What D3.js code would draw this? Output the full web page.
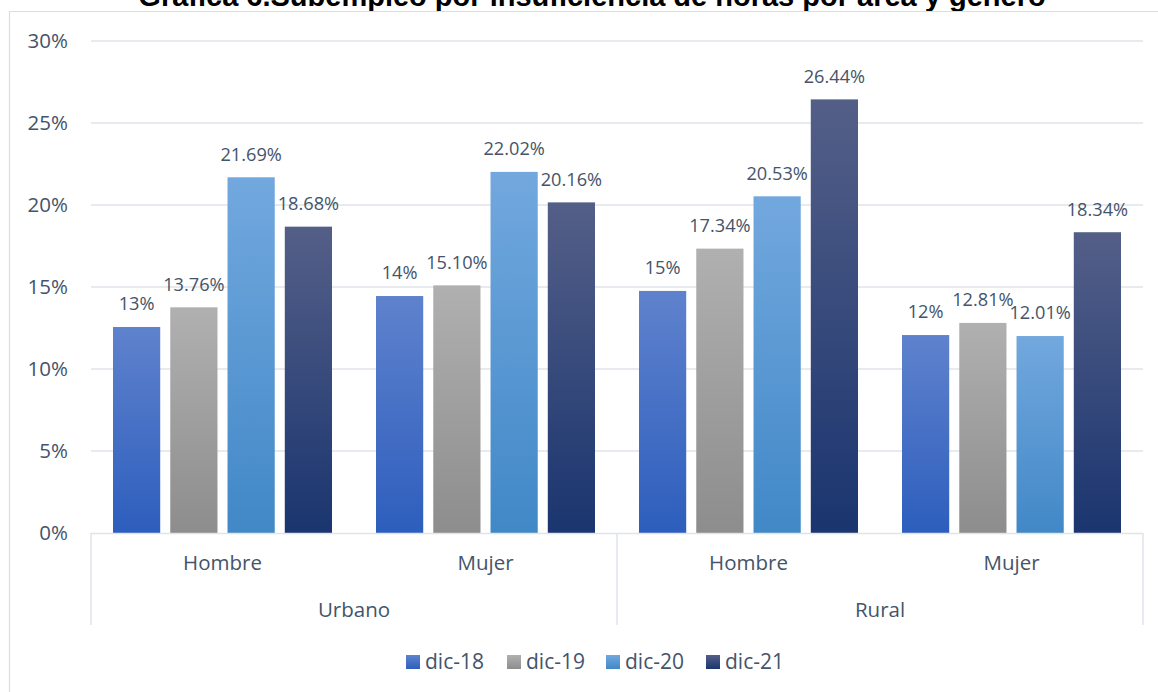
<!DOCTYPE html>
<html><head><meta charset="utf-8">
<script src="https://cdn.jsdelivr.net/npm/d3@7"></script>
<style>body{margin:0;background:#fff;overflow:hidden}svg{display:block;font-family:"Open Sans",sans-serif}</style>
</head><body><svg id="c" width="1158" height="692"></svg>
<script>
const title = "Gráfica 6.Subempleo por insuficiencia de horas por área y género";
const areas = ["Urbano", "Rural"];
const genders = ["Hombre", "Mujer"];
const series = ["dic-18", "dic-19", "dic-20", "dic-21"];
// values in %, order: Urbano-Hombre, Urbano-Mujer, Rural-Hombre, Rural-Mujer
const dic18 = [12.56, 14.45, 14.76, 12.07];
const dic19 = [13.76, 15.10, 17.34, 12.81];
const dic20 = [21.69, 22.02, 20.53, 12.01];
const dic21 = [18.68, 20.16, 26.44, 18.34];
const labels18 = ["13%", "14%", "15%", "12%"];
const labels19 = ["13.76%", "15.10%", "17.34%", "12.81%"];
const labels20 = ["21.69%", "22.02%", "20.53%", "12.01%"];
const labels21 = ["18.68%", "20.16%", "26.44%", "18.34%"];
const yTicks = [0, 5, 10, 15, 20, 25, 30];

const values = [dic18, dic19, dic20, dic21];
const labels = [labels18, labels19, labels20, labels21];
const gradStops = [["#5f82cd", "#2d5ebd"], ["#b0b0b0", "#8d8d8d"], ["#72a8de", "#4188c7"], ["#545f88", "#1a356f"]];
const textCol = "#44546a", gridCol = "#dfe3ea";

const svg = d3.select("#c");
const defs = svg.append("defs");
gradStops.forEach((g, i) => {
  const lg = defs.append("linearGradient").attr("id", "g" + i).attr("x1", 0).attr("y1", 0).attr("x2", 0).attr("y2", 1);
  lg.append("stop").attr("offset", "0%").attr("stop-color", g[0]);
  lg.append("stop").attr("offset", "100%").attr("stop-color", g[1]);
});

// title (cut off at top, as in the source)
svg.append("text").attr("x", 592).attr("y", 6).attr("text-anchor", "middle")
  .attr("font-family", "'Liberation Sans', Arial, sans-serif").attr("font-weight", "bold").attr("font-size", 29).attr("fill", "#000").text(title);
// chart area background hides the title's descenders
svg.append("rect").attr("x", 9.5).attr("y", 11.5).attr("width", 1160).attr("height", 700).attr("fill", "#fff");
// outer frame
svg.append("path").attr("d", "M9.5,700V11.5H1170").attr("fill", "none").attr("stroke", "#d9dee6").attr("stroke-width", 1.2);

const left = 91, right = 1143, y0 = 533, yTop = 41;
const y = d3.scaleLinear().domain([0, 30]).range([y0, yTop]);
const cats = [];
areas.forEach(a => genders.forEach(g => cats.push(a + "|" + g)));
const x0 = d3.scaleBand().domain(cats).range([left, right]).paddingInner(0).paddingOuter(0);
const x1 = d3.scaleBand().domain(series).range([22, x0.bandwidth() - 22]).paddingInner(10 / 57);

// gridlines
svg.append("g").selectAll("line").data(yTicks.slice(1)).join("line")
  .attr("x1", left).attr("x2", right).attr("y1", d => y(d)).attr("y2", d => y(d))
  .attr("stroke", gridCol).attr("stroke-width", 1.5);
// y tick labels
svg.append("g").selectAll("text").data(yTicks).join("text")
  .attr("x", 68).attr("y", d => y(d)).attr("dy", "0.35em").attr("text-anchor", "end")
  .attr("font-size", 20.5).attr("fill", textCol).text(d => d + "%");

// bars
series.forEach((s, si) => {
  const g = svg.append("g");
  g.selectAll("rect").data(cats).join("rect")
    .attr("x", (c) => x0(c) + x1(s)).attr("width", x1.bandwidth())
    .attr("y", (c, i) => y(values[si][i])).attr("height", (c, i) => y0 - y(values[si][i]))
    .attr("fill", `url(#g${si})`);
  g.selectAll("text").data(cats).join("text")
    .attr("x", (c) => x0(c) + x1(s) + x1.bandwidth() / 2)
    .attr("y", (c, i) => y(values[si][i]) - 23).attr("dy", "0.35em").attr("text-anchor", "middle")
    .attr("font-size", 18.2).attr("fill", textCol).text((c, i) => labels[si][i]);
});

// category axis
svg.append("line").attr("x1", left).attr("x2", right).attr("y1", y0 + 0.5).attr("y2", y0 + 0.5).attr("stroke", gridCol).attr("stroke-width", 1.5);
const areaScale = d3.scaleBand().domain(areas).range([left, right]);
[left, areaScale("Rural"), right].forEach(xv => {
  svg.append("line").attr("x1", xv).attr("x2", xv).attr("y1", y0).attr("y2", 625).attr("stroke", gridCol).attr("stroke-width", 1.5);
});
svg.append("g").selectAll("text").data(cats).join("text")
  .attr("x", c => x0(c) + x0.bandwidth() / 2).attr("y", 563).attr("dy", "0.35em").attr("text-anchor", "middle")
  .attr("font-size", 20.5).attr("fill", textCol).text(c => c.split("|")[1]);
svg.append("g").selectAll("text").data(areas).join("text")
  .attr("x", a => areaScale(a) + areaScale.bandwidth() / 2).attr("y", 610).attr("dy", "0.35em").attr("text-anchor", "middle")
  .attr("font-size", 20.5).attr("fill", textCol).text(a => a);

// legend
const legX = [406, 507, 606, 706];
const leg = svg.append("g").selectAll("g").data(series).join("g").attr("transform", (d, i) => `translate(${legX[i]},662)`);
leg.append("rect").attr("x", 0).attr("y", -7).attr("width", 14).attr("height", 14).attr("fill", (d, i) => `url(#g${i})`);
leg.append("text").attr("x", 19).attr("y", 0).attr("dy", "0.35em").attr("font-size", 21).attr("fill", textCol).text(d => d);
</script></body></html>
